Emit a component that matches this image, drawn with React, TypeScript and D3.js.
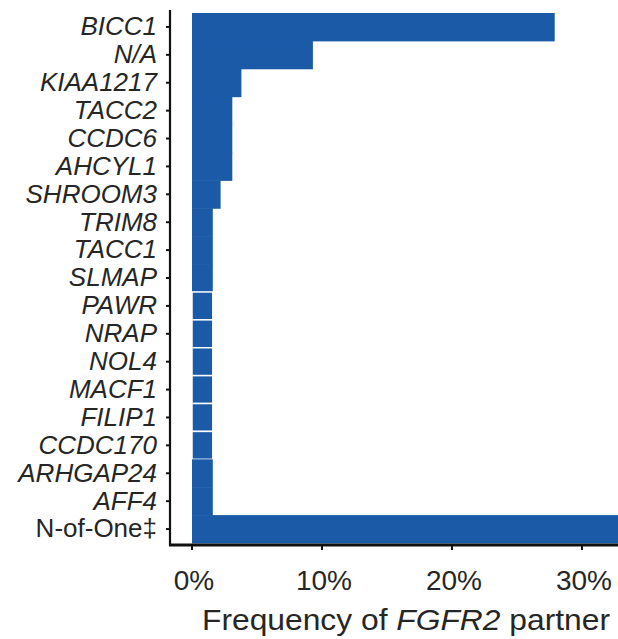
import React from "react";
import * as d3 from "d3";

// FGFR2 fusion partners, top to bottom
const partners = [
  "BICC1", "N/A", "KIAA1217", "TACC2", "CCDC6", "AHCYL1", "SHROOM3", "TRIM8",
  "TACC1", "SLMAP", "PAWR", "NRAP", "NOL4", "MACF1", "FILIP1", "CCDC170",
  "ARHGAP24", "AFF4", "N-of-One\u2021",
];
// frequency of each partner, in percent
const frequency = [
  27.9, 9.3, 3.8, 3.1, 3.1, 3.1, 2.2, 1.6,
  1.6, 1.6, 1.6, 1.6, 1.6, 1.6, 1.6, 1.6,
  1.6, 1.6, 34.0,
];
// partners drawn as separate outlined blocks
const outlined = ["PAWR", "NRAP", "NOL4", "MACF1", "FILIP1", "CCDC170"];
// partner labels set upright instead of italic
const upright = ["N-of-One\u2021"];
const xTicks = [0, 10, 20, 30];

const W = 618;
const H = 639;
const axisX = 170;
const axisY = 545;
const BLUE = "#1a5aa7";
const INK = "#262626";
const FONT = "'Liberation Sans', Arial, Helvetica, sans-serif";

export default function App() {
  const x = d3.scaleLinear().domain([0, 10]).range([192, 322]);
  const y = d3.scaleBand<string>().domain(partners).range([13, 543]).padding(0);

  return (
    <svg
      width={W}
      height={H}
      style={{ position: "absolute", left: 0, top: 0, background: "#fff" }}
      fontFamily={FONT}
    >
      <defs>
        <clipPath id="plot">
          <rect x={axisX} y={0} width={W - axisX} height={axisY} />
        </clipPath>
      </defs>
      <g clipPath="url(#plot)">
        {partners.map((p, i) => {
          const isOutlined = outlined.includes(p);
          return (
            <rect
              key={p}
              x={x(0)}
              y={y(p)!}
              width={x(frequency[i]) - x(0)}
              height={y.bandwidth() + (isOutlined ? 0 : 0.5)}
              fill={BLUE}
              stroke={isOutlined ? "#ffffff" : "none"}
              strokeWidth={isOutlined ? 1.5 : 0}
            />
          );
        })}
      </g>

      {/* y axis */}
      <line x1={axisX} x2={axisX} y1={10} y2={axisY + 1} stroke="#111" strokeWidth={2.2} />
      {partners.map((p) => {
        const cy = y(p)! + y.bandwidth() / 2;
        const italic = !upright.includes(p);
        return (
          <g key={p}>
            <line x1={axisX - 4} x2={axisX} y1={cy} y2={cy} stroke="#111" strokeWidth={2} />
            <text
              x={axisX - 13}
              y={cy - 1}
              dy="0.36em"
              textAnchor="end"
              fontSize={26}
              fontStyle={italic ? "italic" : "normal"}
              fill={INK}
            >
              {p}
            </text>
          </g>
        );
      })}

      {/* x axis */}
      <line x1={axisX - 1} x2={W} y1={axisY} y2={axisY} stroke="#111" strokeWidth={3} />
      {xTicks.map((t) => (
        <g key={t}>
          <line x1={x(t)} x2={x(t)} y1={axisY} y2={axisY + 5} stroke="#111" strokeWidth={2} />
          <text x={x(t) + 2} y={590} textAnchor="middle" fontSize={28} fill={INK}>
            {`${t}%`}
          </text>
        </g>
      ))}
      <text
        x={202}
        y={630}
        fontSize={29}
        fill={INK}
        textLength={408}
        lengthAdjust="spacingAndGlyphs"
      >
        Frequency of <tspan fontStyle="italic">FGFR2</tspan> partner
      </text>
    </svg>
  );
}
